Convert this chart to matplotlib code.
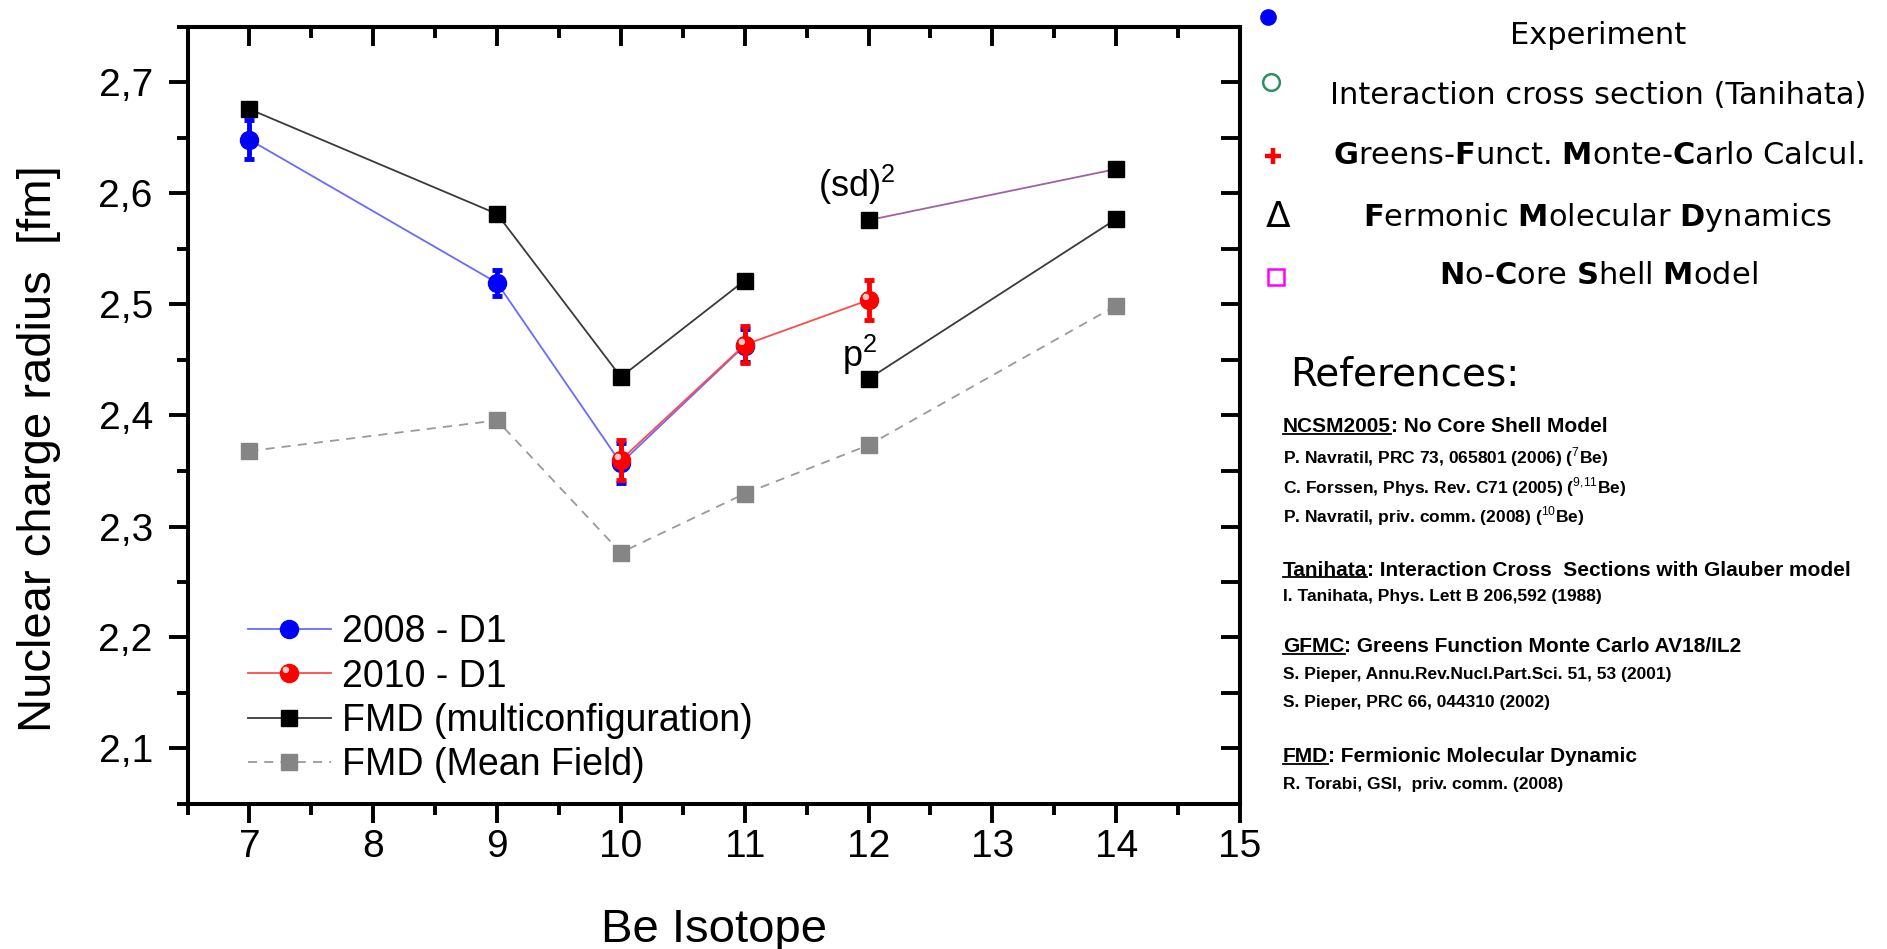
import matplotlib
matplotlib.use("Agg")
import matplotlib.pyplot as plt
from matplotlib.lines import Line2D
from matplotlib.path import Path
from matplotlib.ticker import MultipleLocator
from matplotlib.legend_handler import HandlerTuple
from matplotlib.transforms import IdentityTransform

plt.rcParams["font.family"] = ["Liberation Sans", "DejaVu Sans"]
plt.rcParams["mathtext.fontset"] = "custom"
plt.rcParams["mathtext.rm"] = "Liberation Sans"
plt.rcParams["mathtext.bf"] = "DejaVu Sans:bold"

# ---------------- data ----------------
# Laser spectroscopy, 2008 run (D1 line)
exp2008_x = [7, 9, 10, 11]
exp2008_r = [2.6485, 2.5195, 2.357, 2.463]
exp2008_err = [0.0175, 0.012, 0.018, 0.015]

# Laser spectroscopy, 2010 run (D1 line)
exp2010_x = [10, 11, 12]
exp2010_r = [2.360, 2.4637, 2.504]
exp2010_err = [0.018, 0.0165, 0.018]

# FMD, multiconfiguration
fmd_x = [7, 9, 10, 11]
fmd_r = [2.676, 2.5816, 2.4347, 2.5216]
fmd_p2_x = [12, 14]
fmd_p2_r = [2.433, 2.577]
fmd_sd2_x = [12, 14]
fmd_sd2_r = [2.576, 2.622]

# FMD, mean field
mf_x = [7, 9, 10, 11, 12, 14]
mf_r = [2.368, 2.3956, 2.2765, 2.3296, 2.3733, 2.499]

x_ticks = [7, 8, 9, 10, 11, 12, 13, 14, 15]
x_tick_labels = ["7", "8", "9", "10", "11", "12", "13", "14", "15"]
y_ticks = [2.1, 2.2, 2.3, 2.4, 2.5, 2.6, 2.7]
y_tick_labels = ["2,1", "2,2", "2,3", "2,4", "2,5", "2,6", "2,7"]

series_labels = ["2008 - D1", "2010 - D1", "FMD (multiconfiguration)", "FMD (Mean Field)"]

model_keys = [
    "Experiment",
    "Interaction cross section (Tanihata)",
    r"$\mathbf{G}$reens-$\mathbf{F}$unct. $\mathbf{M}$onte-$\mathbf{C}$arlo Calcul.",
    r"$\mathbf{F}$ermonic $\mathbf{M}$olecular $\mathbf{D}$ynamics",
    r"$\mathbf{N}$o-$\mathbf{C}$ore $\mathbf{S}$hell $\mathbf{M}$odel",
]

references = [
    ("NCSM2005", ": No Core Shell Model", [
        r"P. Navratil, PRC 73, 065801 (2006) ($^{7}$Be)",
        r"C. Forssen, Phys. Rev. C71 (2005) ($^{9{,}11}$Be)",
        r"P. Navratil, priv. comm. (2008) ($^{10}$Be)",
    ]),
    ("Tanihata", ": Interaction Cross  Sections with Glauber model", [
        "I. Tanihata, Phys. Lett B 206,592 (1988)",
    ]),
    ("GFMC", ": Greens Function Monte Carlo AV18/IL2", [
        "S. Pieper, Annu.Rev.Nucl.Part.Sci. 51, 53 (2001)",
        "S. Pieper, PRC 66, 044310 (2002)",
    ]),
    ("FMD", ": Fermionic Molecular Dynamic", [
        "R. Torabi, GSI,  priv. comm. (2008)",
    ]),
]

# ---------------- figure ----------------
W, H = 1887, 949
fig = plt.figure(figsize=(W / 100, H / 100), dpi=100)


def fx(px):
    return px / W


def fy(py):
    return 1 - py / H


ax = fig.add_axes([fx(187.5), fy(804), (1240 - 187.5) / W, (804 - 27) / H])
ax.set_xlim(6.5, 15)
ax.set_ylim(2.05, 2.75)

# glossy highlight for the 2010 markers: small circle offset to the upper left
highlight = Path.circle(center=(-0.2, 0.2), radius=0.18)
ms_red = 13

# mean field
mf_line, = ax.plot(mf_x, mf_r, ls=(0, (5, 4)), lw=1.3, color="#9a9a9a",
                   marker="s", ms=11, mfc="#858585", mec="#858585", zorder=2)
# multiconfiguration
fmd_line, = ax.plot(fmd_x, fmd_r, lw=1.3, color="#3a3a3a", marker="s", ms=11,
                    mfc="black", mec="black", zorder=3)
ax.plot(fmd_p2_x, fmd_p2_r, lw=1.3, color="#3a3a3a", marker="s", ms=11,
        mfc="black", mec="black", zorder=3)
ax.plot(fmd_sd2_x, fmd_sd2_r, lw=1.3, color="#a060a8", marker="s", ms=11,
        mfc="black", mec="black", zorder=3)

# 2008 data
ax.errorbar(exp2008_x, exp2008_r, yerr=exp2008_err, fmt="none", ecolor="#0000ff",
            elinewidth=3.5, capsize=3.5, capthick=3.5, zorder=4)
blue_line, = ax.plot(exp2008_x, exp2008_r, lw=1.3, color="#6a6aff", marker="o",
                     ms=13, mfc="#0000ff", mec="#0000ff", zorder=5)

# 2010 data
ax.errorbar(exp2010_x, exp2010_r, yerr=exp2010_err, fmt="none", ecolor="#ff0000",
            elinewidth=3.5, capsize=3.5, capthick=3.5, zorder=6)
red_line, = ax.plot(exp2010_x, exp2010_r, lw=1.3, color="#ff4a4a", marker="o",
                    ms=ms_red, mfc="#ff0000", mec="#ff0000", zorder=7)
red_hl, = ax.plot(exp2010_x, exp2010_r, ls="none", marker=highlight,
                  ms=0.76 * ms_red, mfc="#ffcaca", mec="none", zorder=8)

# configuration labels
ax.text(12.22, 2.597, "(sd)$^2$", fontsize=26, ha="right", va="baseline")
ax.text(12.067, 2.4435, "p$^2$", fontsize=26, ha="right", va="baseline")

# axes styling
for sp in ax.spines.values():
    sp.set_linewidth(2.9)
ax.set_xticks(x_ticks, x_tick_labels)
ax.set_yticks(y_ticks, y_tick_labels)
ax.xaxis.set_minor_locator(MultipleLocator(0.5))
ax.yaxis.set_minor_locator(MultipleLocator(0.05))
ax.tick_params(which="both", direction="out", width=2.8, top=False, right=False,
               labelsize=28)
ax.tick_params(which="major", length=14)
ax.tick_params(which="minor", length=8)
ax.tick_params(axis="y", pad=11)
ax.tick_params(axis="x", pad=4)

secx = ax.secondary_xaxis("top")
secx.set_xticks(x_ticks)
secx.xaxis.set_minor_locator(MultipleLocator(0.5))
secx.tick_params(which="both", direction="in", width=2.8, labeltop=False)
secx.tick_params(which="major", length=14)
secx.tick_params(which="minor", length=8)
secx.spines["top"].set_linewidth(2.9)

secy = ax.secondary_yaxis("right")
secy.set_yticks(y_ticks)
secy.yaxis.set_minor_locator(MultipleLocator(0.05))
secy.tick_params(which="both", direction="in", width=2.8, labelright=False)
secy.tick_params(which="major", length=14)
secy.tick_params(which="minor", length=14)
secy.spines["right"].set_linewidth(2.9)

ax.set_xlabel("Be Isotope", fontsize=34)
ax.xaxis.label.set_va("baseline")
ax.xaxis.set_label_coords(0.5, (804 - 942) / 777)
ax.set_ylabel("Nuclear charge radius  [fm]", fontsize=34)
ax.yaxis.label.set(ha="center", va="center", rotation_mode="anchor")
ax.yaxis.set_label_coords((39 - 187.5) / 1052.5, (804 - 448.5) / 777)

ax.legend([blue_line, (red_line, red_hl), fmd_line, mf_line], series_labels,
          handler_map={tuple: HandlerTuple(ndivide=1, pad=0)},
          loc="lower left", bbox_to_anchor=(0.0575, 0.027), frameon=False,
          fontsize=27, handlelength=2.2, handletextpad=0.3, labelspacing=0.22,
          borderpad=0, borderaxespad=0, numpoints=1)

# ---------------- model key (right) ----------------
fig.add_artist(Line2D([fx(1268)], [fy(17)], transform=fig.transFigure, ls="none",
                      marker="o", ms=11, mfc="#0000ff", mec="#0000ff"))
fig.add_artist(Line2D([fx(1271)], [fy(82)], transform=fig.transFigure, ls="none",
                      marker="o", ms=12, mfc="none", mec="#2e9060", mew=1.8))
fig.add_artist(Line2D([fx(1273)], [fy(156)], transform=fig.transFigure, ls="none",
                      marker="+", ms=11, mec="#ff0000", mew=3.2))
fig.text(fx(1278), fy(217), "Δ", fontsize=26, family="DejaVu Sans",
         ha="center", va="center")
fig.add_artist(Line2D([fx(1276)], [fy(277)], transform=fig.transFigure, ls="none",
                      marker="s", ms=12, mfc="none", mec="#ff00ff", mew=1.8))

key_y = [36, 96, 156, 217, 276]
for label, y in zip(model_keys, key_y):
    fig.text(fx(1598), fy(y), label, fontsize=22, family="DejaVu Sans",
             ha="center", va="center")

# ---------------- references ----------------
fig.text(fx(1290), fy(374), "References:", fontsize=28, family="DejaVu Sans",
         ha="left", va="center")

ref_y = [[427, 457, 487, 516], [570, 597], [647, 675, 703], [757, 785]]
terms = []
for (term, head, lines), ys in zip(references, ref_y):
    t = fig.text(fx(1283), fy(ys[0]), term, fontsize=15, fontweight="bold",
                 ha="left", va="center")
    ax.annotate(head, xy=(1, 0), xycoords=t, fontsize=15, fontweight="bold",
                ha="left", va="bottom", annotation_clip=False)
    terms.append(t)
    for line, y in zip(lines, ys[1:]):
        fig.text(fx(1283), fy(y), line, fontsize=12.5, fontweight="bold",
                 ha="left", va="center")

fig.canvas.draw()
renderer = fig.canvas.get_renderer()
for t in terms:
    bb = t.get_window_extent(renderer)
    yl = bb.y0 + 0.12 * bb.height
    fig.add_artist(Line2D([bb.x0, bb.x1], [yl, yl], transform=IdentityTransform(),
                          color="black", lw=1.3))

fig.savefig("out.png", dpi=100)
